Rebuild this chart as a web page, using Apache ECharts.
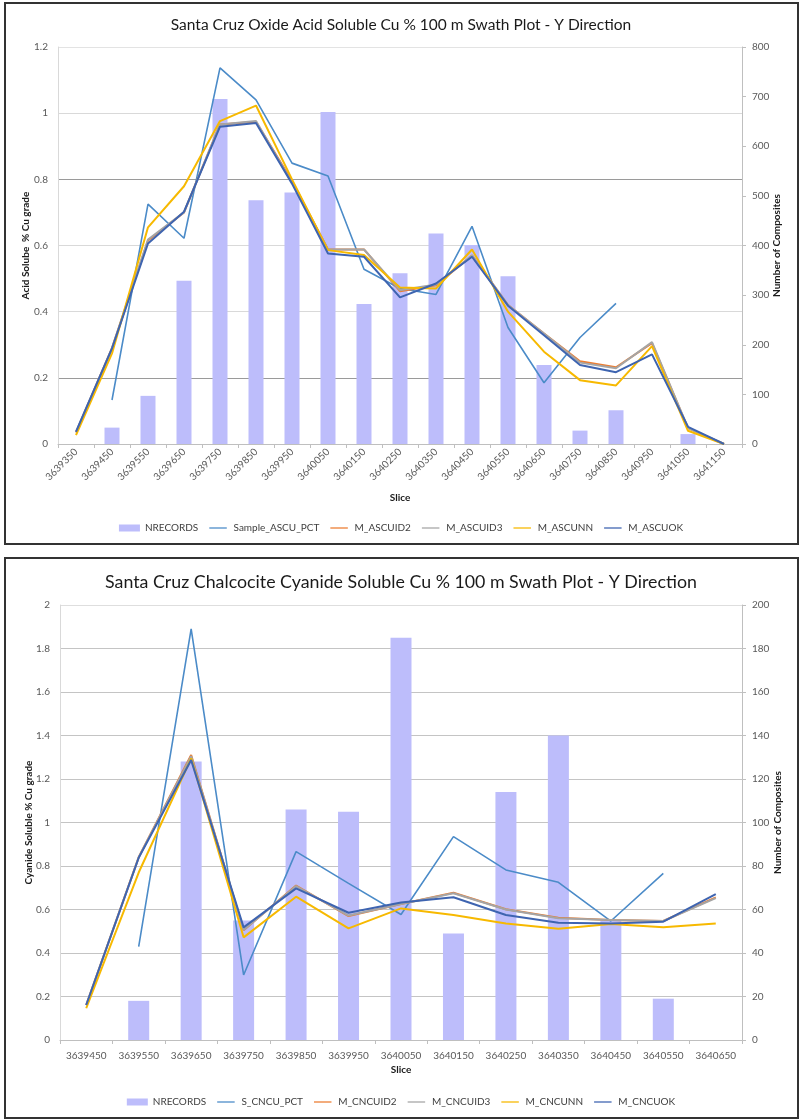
<!DOCTYPE html>
<html>
<head>
<meta charset="utf-8">
<script src="https://cdn.jsdelivr.net/npm/echarts@6/dist/echarts.min.js"></script>
<style>
  html, body { margin: 0; padding: 0; background: #ffffff; }
  #chart { width: 802px; height: 1120px; }
</style>
</head>
<body>
<div id="chart"></div>
<script>
// ---- Oxide acid soluble Cu swath (Y direction) ----
const oxideSlices = ['3639350','3639450','3639550','3639650','3639750','3639850','3639950','3640050','3640150','3640250',
  '3640350','3640450','3640550','3640650','3640750','3640850','3640950','3641050','3641150'];
const oxideRecords = [0, 33, 97, 329, 695, 491, 507, 669, 282, 344, 424, 401, 338, 159, 27, 68, 0, 20, 0];
const sampleAscuPct = [null, 0.133, 0.725, 0.622, 1.137, 1.040, 0.849, 0.810, 0.528, 0.470, 0.452, 0.658, 0.352, 0.185, 0.322, 0.425, null, null, null];
const mAscuId2 = [0.035, 0.290, 0.615, 0.700, 0.966, 0.974, 0.795, 0.588, 0.588, 0.462, 0.480, 0.570, 0.420, 0.334, 0.250, 0.232, 0.305, 0.048, 0];
const mAscuId3 = [0.035, 0.290, 0.618, 0.700, 0.966, 0.976, 0.790, 0.588, 0.588, 0.465, 0.482, 0.570, 0.420, 0.334, 0.246, 0.229, 0.308, 0.048, 0];
const mAscuNn  = [0.027, 0.274, 0.655, 0.779, 0.976, 1.023, 0.800, 0.586, 0.571, 0.473, 0.470, 0.588, 0.400, 0.279, 0.193, 0.177, 0.296, 0.040, 0];
const mAscuOk  = [0.037, 0.289, 0.606, 0.702, 0.959, 0.970, 0.787, 0.576, 0.566, 0.443, 0.485, 0.566, 0.418, 0.329, 0.239, 0.217, 0.271, 0.052, 0];

// ---- Chalcocite cyanide soluble Cu swath (Y direction) ----
const chalcSlices = ['3639450','3639550','3639650','3639750','3639850','3639950','3640050','3640150','3640250','3640350','3640450','3640550','3640650'];
const chalcRecords = [0, 18, 128, 55, 106, 105, 185, 49, 114, 140, 55, 19, 0];
const sCncuPct = [null, 0.429, 1.890, 0.299, 0.866, 0.720, 0.577, 0.935, 0.782, 0.725, 0.547, 0.766, null];
const mCncuId2 = [0.160, 0.840, 1.310, 0.505, 0.710, 0.570, 0.625, 0.677, 0.601, 0.562, 0.552, 0.547, 0.656];
const mCncuId3 = [0.160, 0.840, 1.305, 0.506, 0.708, 0.572, 0.625, 0.675, 0.600, 0.560, 0.552, 0.547, 0.652];
const mCncuNn  = [0.146, 0.770, 1.295, 0.472, 0.659, 0.513, 0.605, 0.575, 0.536, 0.512, 0.533, 0.518, 0.536];
const mCncuOk  = [0.161, 0.838, 1.287, 0.518, 0.697, 0.585, 0.632, 0.656, 0.575, 0.539, 0.536, 0.544, 0.671];

const FONT = 'Lato, "Open Sans", sans-serif';
const C_BAR = '#bdbdfb', C_SAMPLE = '#4b8bc8', C_ID2 = '#ed7d31', C_ID3 = '#a5a5a5', C_NN = '#f7b900', C_OK = '#3e64b0';
const LABEL = { color: '#595959', fontFamily: FONT, fontSize: 10 };
const NAME = { color: '#1a1a1a', fontFamily: FONT, fontSize: 10, fontWeight: 'bold' };
// thin horizontal stroke for line entries in the legend (outer move-tos keep the box height)
const LINE_ICON = 'path://M0,0L0,0M0,3.6L22,3.6L22,5.2L0,5.2ZM22,8.8L22,8.8';

function lineSeries(name, data, color, width, xi, yi) {
  return {
    name, type: 'line', data, xAxisIndex: xi, yAxisIndex: yi,
    symbol: 'none', lineStyle: { color, width }, itemStyle: { color },
    connectNulls: false, z: 3, animation: false
  };
}
function barSeries(name, data, xi, yi, width) {
  return {
    name, type: 'bar', data, xAxisIndex: xi, yAxisIndex: yi,
    barWidth: width, itemStyle: { color: C_BAR }, z: 2, animation: false
  };
}
function legendItems(names) {
  return names.map((n, i) => (i === 0 ? { name: n, icon: 'rect' } : { name: n, icon: LINE_ICON }));
}

const chart = echarts.init(document.getElementById('chart'), null, { renderer: 'canvas' });
chart.setOption({
  animation: false,
  backgroundColor: '#ffffff',
  textStyle: { fontFamily: FONT },
  graphic: [
    { type: 'rect', shape: { x: 5, y: 3, width: 793, height: 541 }, style: { fill: 'none', stroke: '#333', lineWidth: 2 }, silent: true },
    { type: 'rect', shape: { x: 5, y: 558, width: 793, height: 560 }, style: { fill: 'none', stroke: '#333', lineWidth: 2 }, silent: true }
  ],
  title: [
    { text: 'Santa Cruz Oxide Acid Soluble Cu % 100 m Swath Plot - Y Direction', left: 'center', top: 12,
      textStyle: { fontFamily: FONT, fontSize: 15.5, fontWeight: 'normal', color: '#1a1a1a' } },
    { text: 'Santa Cruz Chalcocite Cyanide Soluble Cu % 100 m Swath Plot - Y Direction', left: 'center', top: 568,
      textStyle: { fontFamily: FONT, fontSize: 17.8, fontWeight: 'normal', color: '#1a1a1a' } }
  ],
  legend: [
    { top: 518, left: 'center', itemWidth: 21, itemHeight: 7, itemGap: 11,
      textStyle: { color: '#404040', fontFamily: FONT, fontSize: 10 },
      data: legendItems(['NRECORDS', 'Sample_ASCU_PCT', 'M_ASCUID2', 'M_ASCUID3', 'M_ASCUNN', 'M_ASCUOK']) },
    { top: 1092, left: 'center', itemWidth: 21, itemHeight: 7, itemGap: 11,
      textStyle: { color: '#404040', fontFamily: FONT, fontSize: 10 },
      data: legendItems(['NRECORDS', 'S_CNCU_PCT', 'M_CNCUID2', 'M_CNCUID3', 'M_CNCUNN', 'M_CNCUOK']) }
  ],
  grid: [
    { left: 58, top: 47, width: 684, height: 397 },
    { left: 60, top: 605, width: 682, height: 435 }
  ],
  xAxis: [
    { type: 'category', gridIndex: 0, data: oxideSlices, boundaryGap: true,
      name: 'Slice', nameLocation: 'middle', nameGap: 49, nameTextStyle: NAME,
      axisLine: { lineStyle: { color: '#bfbfbf' } },
      axisTick: { show: true, length: 4, lineStyle: { color: '#bfbfbf' } },
      axisLabel: Object.assign({ interval: 0, rotate: 45, margin: 6 }, LABEL) },
    { type: 'category', gridIndex: 1, data: chalcSlices, boundaryGap: true,
      name: 'Slice', nameLocation: 'middle', nameGap: 25, nameTextStyle: NAME,
      axisLine: { lineStyle: { color: '#bfbfbf' } },
      axisTick: { show: true, length: 4, lineStyle: { color: '#bfbfbf' } },
      axisLabel: Object.assign({ interval: 0, margin: 11 }, LABEL) }
  ],
  yAxis: [
    { type: 'value', gridIndex: 0, position: 'left', min: 0, max: 1.2, interval: 0.2,
      name: 'Acid Solube  % Cu grade', nameLocation: 'middle', nameGap: 27, nameMoveOverlap: false, nameRotate: 90, nameTextStyle: NAME,
      axisLine: { show: true, lineStyle: { color: '#d9d9d9' } }, axisTick: { show: false },
      axisLabel: Object.assign({ margin: 10 }, LABEL),
      splitLine: { show: true, lineStyle: { color: ['#d9d9d9', '#9a9a9a', '#d9d9d9', '#d9d9d9', '#9a9a9a', '#d9d9d9', '#e3e3e3'], width: 1 } } },
    { type: 'value', gridIndex: 0, position: 'right', min: 0, max: 800, interval: 100,
      name: 'Number of Composites', nameLocation: 'middle', nameGap: 30, nameMoveOverlap: false, nameRotate: 90, nameTextStyle: NAME,
      axisLine: { show: true, lineStyle: { color: '#bfbfbf' } },
      axisTick: { show: true, length: 4, lineStyle: { color: '#bfbfbf' } },
      axisLabel: Object.assign({ margin: 10 }, LABEL), splitLine: { show: false } },
    { type: 'value', gridIndex: 1, position: 'left', min: 0, max: 2, interval: 0.2,
      name: 'Cyanide Soluble % Cu grade', nameLocation: 'middle', nameGap: 26, nameMoveOverlap: false, nameRotate: 90, nameTextStyle: NAME,
      axisLine: { show: true, lineStyle: { color: '#d9d9d9' } }, axisTick: { show: false },
      axisLabel: Object.assign({ margin: 10 }, LABEL),
      splitLine: { show: true, lineStyle: { color: ['#c4c4c4', '#c4c4c4', '#c4c4c4', '#c4c4c4', '#c4c4c4', '#c4c4c4', '#c4c4c4', '#c4c4c4', '#c4c4c4', '#c4c4c4', '#dedede'], width: 1 } } },
    { type: 'value', gridIndex: 1, position: 'right', min: 0, max: 200, interval: 20,
      name: 'Number of Composites', nameLocation: 'middle', nameGap: 31, nameMoveOverlap: false, nameRotate: 90, nameTextStyle: NAME,
      axisLine: { show: true, lineStyle: { color: '#bfbfbf' } },
      axisTick: { show: true, length: 4, lineStyle: { color: '#bfbfbf' } },
      axisLabel: Object.assign({ margin: 10 }, LABEL), splitLine: { show: false } }
  ],
  series: [
    barSeries('NRECORDS', oxideRecords, 0, 1, 15),
    lineSeries('Sample_ASCU_PCT', sampleAscuPct, C_SAMPLE, 1.6, 0, 0),
    lineSeries('M_ASCUID2', mAscuId2, C_ID2, 2, 0, 0),
    lineSeries('M_ASCUID3', mAscuId3, C_ID3, 2, 0, 0),
    lineSeries('M_ASCUNN', mAscuNn, C_NN, 2, 0, 0),
    lineSeries('M_ASCUOK', mAscuOk, C_OK, 2, 0, 0),

    barSeries('NRECORDS', chalcRecords, 1, 3, 21),
    lineSeries('S_CNCU_PCT', sCncuPct, C_SAMPLE, 1.6, 1, 2),
    lineSeries('M_CNCUID2', mCncuId2, C_ID2, 2, 1, 2),
    lineSeries('M_CNCUID3', mCncuId3, C_ID3, 2, 1, 2),
    lineSeries('M_CNCUNN', mCncuNn, C_NN, 2, 1, 2),
    lineSeries('M_CNCUOK', mCncuOk, C_OK, 2, 1, 2)
  ]
});
</script>
</body>
</html>
